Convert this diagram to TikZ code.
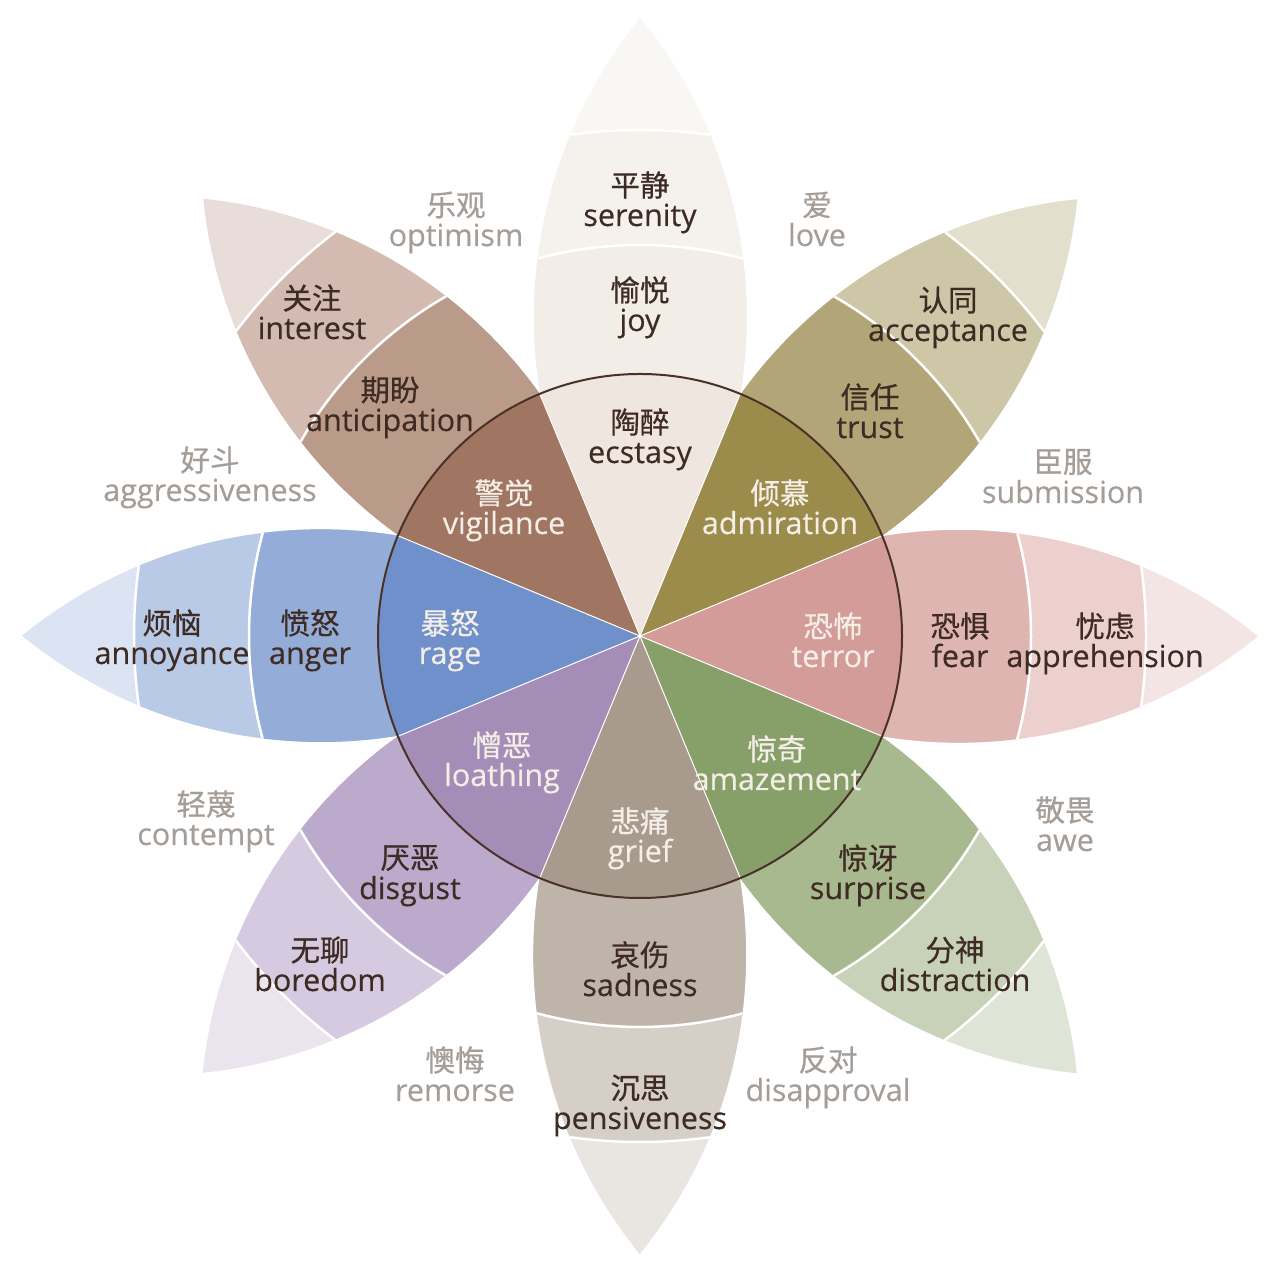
\documentclass[tikz,border=0pt]{standalone}
\usepackage{fontspec}
\newfontfamily\zhfont[FakeBold=0.6]{Noto Sans CJK SC}
\newfontfamily\enfont[FakeBold=0.35]{Open Sans}
\definecolor{joyT}{HTML}{F9F7F4}\definecolor{joyO}{HTML}{F5F2EE}\definecolor{joyM}{HTML}{F2EDE7}\definecolor{joyI}{HTML}{EFE7DF}
\definecolor{truT}{HTML}{E2DFCD}\definecolor{truO}{HTML}{CDC7A8}\definecolor{truM}{HTML}{B2A678}\definecolor{truI}{HTML}{9C8C4C}
\definecolor{feaT}{HTML}{F3E5E3}\definecolor{feaO}{HTML}{EBD0CD}\definecolor{feaM}{HTML}{DFB5B1}\definecolor{feaI}{HTML}{D39C98}
\definecolor{surT}{HTML}{DEE5D6}\definecolor{surO}{HTML}{C8D2B8}\definecolor{surM}{HTML}{A8B990}\definecolor{surI}{HTML}{87A06A}
\definecolor{sadT}{HTML}{E9E6E2}\definecolor{sadO}{HTML}{D6CFC8}\definecolor{sadM}{HTML}{BFB4AA}\definecolor{sadI}{HTML}{A89B8E}
\definecolor{disT}{HTML}{E9E4EE}\definecolor{disO}{HTML}{D5CADF}\definecolor{disM}{HTML}{BCAACC}\definecolor{disI}{HTML}{A48EB8}
\definecolor{angT}{HTML}{DCE4F3}\definecolor{angO}{HTML}{B9CAE7}\definecolor{angM}{HTML}{94ADD8}\definecolor{angI}{HTML}{6F90CA}
\definecolor{antT}{HTML}{E8DDD9}\definecolor{antO}{HTML}{D3BBB1}\definecolor{antM}{HTML}{BA9B89}\definecolor{antI}{HTML}{A07562}
\definecolor{txtdark}{HTML}{3D2B24}
\definecolor{txtlight}{HTML}{F4EEE7}
\definecolor{txtgrey}{HTML}{A59D97}
\definecolor{ringcol}{HTML}{4A3128}
\def\petal{(0,0) -- (100.3,242) arc[start angle=-9.36, end angle=39.14, radius=473.7] arc[start angle=140.86, end angle=189.36, radius=473.7] -- cycle}
\newcommand\lab[6]{%
  \node[lbl,#6] (#1z) at ({#2},{1280-#3}) {\zhfont\fontsize{29.5}{31}\selectfont #4};
  \node[lbl,#6,anchor=base] (#1e) at ({#2},{1280-#3-41}) {\enfont\fontsize{30.5}{32}\selectfont #5};}
\begin{document}
\begin{tikzpicture}[x=1pt,y=1pt,
  lbl/.style={inner sep=0pt},
  dk/.style={text=txtdark},
  lt/.style={text=txtlight},
  gy/.style={text=txtgrey},
  sep/.style={draw=white,line width=2.5pt},
  ring/.style={draw=ringcol,line width=2pt}]
\useasboundingbox (0,0) rectangle (1280,1280);
\fill[white] (0,0) rectangle (1280,1280);
\foreach \k/\ct/\co/\cm/\ci in {0/joyT/joyO/joyM/joyI,1/truT/truO/truM/truI,2/feaT/feaO/feaM/feaI,3/surT/surO/surM/surI,4/sadT/sadO/sadM/sadI,5/disT/disO/disM/disI,6/angT/angO/angM/angI,7/antT/antO/antM/antI}{
  \begin{scope}[shift={(640,644)},rotate=-45*\k]
    \fill[fill=\ct] \petal;
    \begin{scope}
      \clip \petal;
      \fill[fill=\co] (0,0) circle[radius=506];
      \fill[fill=\cm] (0,0) circle[radius=391];
      \draw[sep] (0,0) circle[radius=391] (0,0) circle[radius=506];
    \end{scope}
    \fill[fill=\ci] (0,0) -- (67.5:262) arc[start angle=67.5,end angle=112.5,radius=262] -- cycle;
  \end{scope}
}
\foreach \a in {22.5,67.5,...,337.5}{
  \draw[white,line width=1pt] (640,644) -- ++(\a:262);
}
\draw[ring] (640,644) circle[radius=262];
% labels
\lab{serenity}{640}{185}{平静}{serenity}{dk}
\lab{joy}{640}{290}{愉悦}{joy}{dk}
\lab{ecstasy}{640}{422}{陶醉}{ecstasy}{dk}
\lab{acceptance}{948}{300}{认同}{acceptance}{dk}
\lab{trust}{870}{397}{信任}{trust}{dk}
\lab{admiration}{780}{493}{倾慕}{admiration}{lt}
\lab{terror}{833}{626}{恐怖}{terror}{lt}
\lab{fear}{960}{626}{恐惧}{fear}{dk}
\lab{apprehension}{1105}{626}{忧虑}{apprehension}{dk}
\lab{amazement}{777}{749}{惊奇}{amazement}{lt}
\lab{surprise}{868}{858}{惊讶}{surprise}{dk}
\lab{distraction}{955}{950}{分神}{distraction}{dk}
\lab{grief}{640}{821}{悲痛}{grief}{lt}
\lab{sadness}{640}{955}{哀伤}{sadness}{dk}
\lab{pensiveness}{640}{1088}{沉思}{pensiveness}{dk}
\lab{loathing}{502}{745}{憎恶}{loathing}{lt}
\lab{disgust}{410}{858}{厌恶}{disgust}{dk}
\lab{boredom}{320}{950}{无聊}{boredom}{dk}
\lab{rage}{450}{623}{暴怒}{rage}{lt}
\lab{anger}{310}{623}{愤怒}{anger}{dk}
\lab{annoyance}{172}{623}{烦恼}{annoyance}{dk}
\lab{vigilance}{504}{493}{警觉}{vigilance}{lt}
\lab{anticipation}{390}{390}{期盼}{anticipation}{dk}
\lab{interest}{312}{298}{关注}{interest}{dk}
\lab{optimism}{456}{205}{乐观}{optimism}{gy}
\lab{love}{817}{205}{爱}{love}{gy}
\lab{aggressiveness}{210}{460}{好斗}{aggressiveness}{gy}
\lab{submission}{1063}{462}{臣服}{submission}{gy}
\lab{contempt}{206}{804}{轻蔑}{contempt}{gy}
\lab{awe}{1065}{810}{敬畏}{awe}{gy}
\lab{remorse}{455}{1060}{懊悔}{remorse}{gy}
\lab{disapproval}{828}{1060}{反对}{disapproval}{gy}
\end{tikzpicture}
\end{document}
